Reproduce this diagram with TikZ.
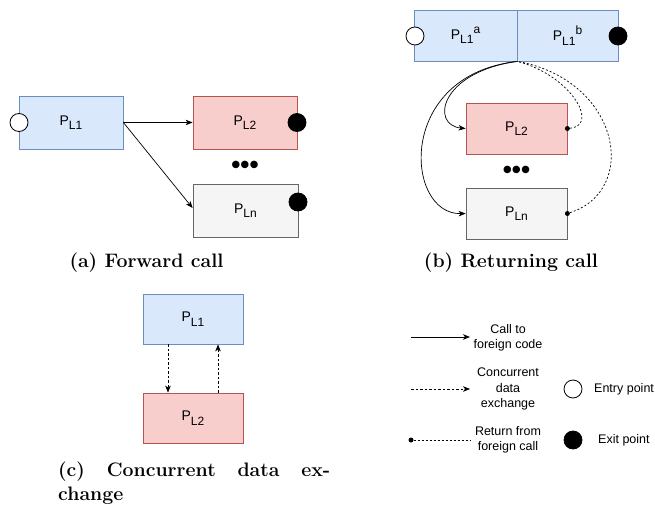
\documentclass[tikz,border=0pt]{standalone}
\usepackage{fontspec}
\setsansfont{Liberation Sans}
\usetikzlibrary{arrows.meta}
\definecolor{bluefill}{HTML}{DAE8FC}
\definecolor{bluedraw}{HTML}{6C8EBF}
\definecolor{redfill}{HTML}{F8CECC}
\definecolor{reddraw}{HTML}{B85450}
\definecolor{grayfill}{HTML}{F5F5F5}
\definecolor{graydraw}{HTML}{666666}
\newcommand{\psub}[1]{P\raisebox{-4.5pt}{\fontsize{12}{12}\selectfont #1}}
\newcommand{\psup}[1]{\raisebox{6pt}{\fontsize{12}{12}\selectfont #1}}
\begin{document}
\begin{tikzpicture}[x=1pt,y=-1pt,
  box/.style={draw,line width=0.8pt,inner sep=0pt,font=\sffamily\fontsize{14}{16}\selectfont},
  bluebox/.style={box,fill=bluefill,draw=bluedraw},
  redbox/.style={box,fill=redfill,draw=reddraw},
  graybox/.style={box,fill=grayfill,draw=graydraw},
  entrypt/.style={circle,draw,line width=0.8pt,fill=white,minimum size=18pt,inner sep=0pt},
  exitpt/.style={circle,draw,line width=0.8pt,fill=black,minimum size=18pt,inner sep=0pt},
  retdot/.style={circle,fill=black,minimum size=5pt,inner sep=0pt},
  callarrow/.style={draw,line width=0.7pt,-{Stealth[length=7pt,width=5.5pt,inset=2pt]}},
  dataarrow/.style={draw,line width=0.7pt,dash pattern=on 2.5pt off 2pt,-{Stealth[length=7pt,width=5.5pt,inset=2pt]}},
  retline/.style={draw,line width=0.7pt,dash pattern=on 2pt off 2pt},
  caption/.style={font=\bfseries\fontsize{19.5}{24}\selectfont,inner sep=0pt},
  legtext/.style={font=\sffamily\fontsize{12.5}{15.5}\selectfont,align=center,inner sep=0pt},
  dots/.style={font=\sffamily\bfseries\fontsize{26}{26}\selectfont,inner sep=0pt}
]
\useasboundingbox (0,0) rectangle (655,508);

% ---------- (a) Forward call ----------
\node[bluebox,minimum width=104pt,minimum height=53pt] (a1) at (71,122.5) {\psub{L1}};
\node[redbox,minimum width=104pt,minimum height=53pt] (a2) at (245,122.5) {\psub{L2}};
\node[graybox,minimum width=105pt,minimum height=53pt] (an) at (245.5,210.5) {\psub{Ln}};
\node[entrypt] (a1in) at (19,122.5) {};
\node[exitpt] (a2out) at (297,122.5) {};
\node[exitpt] (anout) at (298,202) {};
\node[dots] (adots) at (245,167) {•••};
\draw[callarrow] (a1.east) -- (a2.west);
\draw[callarrow] (a1.east) -- (an.west |- 0,208);
\node[caption] (capa) at (146.5,263) {(a) Forward call};

% ---------- (b) Returning call ----------
\node[bluebox,minimum width=103pt,minimum height=51pt] (b1a) at (465.5,35.5) {\psub{L1}\psup{a}};
\node[bluebox,minimum width=101pt,minimum height=51pt] (b1b) at (567.5,35.5) {\psub{L1}\psup{b}};
\node[entrypt] (b1in) at (415,36) {};
\node[exitpt] (b1out) at (618,36) {};
\node[redbox,minimum width=101pt,minimum height=51pt] (b2) at (516.5,128.5) {\psub{L2}};
\node[graybox,minimum width=101pt,minimum height=51pt] (bn) at (516.5,213.5) {\psub{Ln}};
\node[dots] (bdots) at (516.5,172) {•••};
\coordinate (bsplit) at (b1a.south east);
\node[retdot] (b2dot) at (b2.east) {};
\node[retdot] (bndot) at (bn.east) {};
\draw[callarrow] (bsplit) .. controls (440,72) and (430,125) .. (b2.west);
\draw[callarrow] (bsplit) .. controls (395,75) and (405,215) .. (bn.west);
\draw[retline] (b2dot) .. controls (600,125) and (570,75) .. (bsplit);
\draw[retline] (bndot) .. controls (640,190) and (620,80) .. (bsplit);
\node[caption] (capb) at (511,263) {(b) Returning call};

% ---------- (c) Concurrent data exchange ----------
\node[bluebox,minimum width=100pt,minimum height=50pt] (c1) at (193,319) {\psub{L1}};
\node[redbox,minimum width=100pt,minimum height=50pt] (c2) at (193,418) {\psub{L2}};
\draw[dataarrow] (c1.south -| 168,0) -- (c2.north -| 168,0);
\draw[dataarrow] (c2.north -| 218,0) -- (c1.south -| 218,0);
\node[caption,text width=272pt,align=justify,anchor=north west] (capc) at (58,462) {(c) Concurrent data ex-\linebreak change};

% ---------- Legend ----------
\coordinate (l1s) at (411,337);
\coordinate (l1e) at (470,337);
\draw[callarrow] (l1s) -- (l1e);
\node[legtext] (l1t) at (508,338) {Call to\\foreign code};
\coordinate (l2s) at (411,389);
\coordinate (l2e) at (470,389);
\draw[dataarrow] (l2s) -- (l2e);
\node[legtext] (l2t) at (508,389) {Concurrent\\data\\exchange};
\node[retdot] (l3s) at (411,440) {};
\coordinate (l3e) at (470,440);
\draw[retline] (l3s) -- (l3e);
\node[legtext] (l3t) at (508,440) {Return from\\foreign call};
\node[entrypt] (lentry) at (573,389) {};
\node[legtext,anchor=west] (lentryt) at (594,389) {Entry point};
\node[exitpt] (lexit) at (573,440) {};
\node[legtext,anchor=west] (lexitt) at (598,440) {Exit point};
\end{tikzpicture}
\end{document}
